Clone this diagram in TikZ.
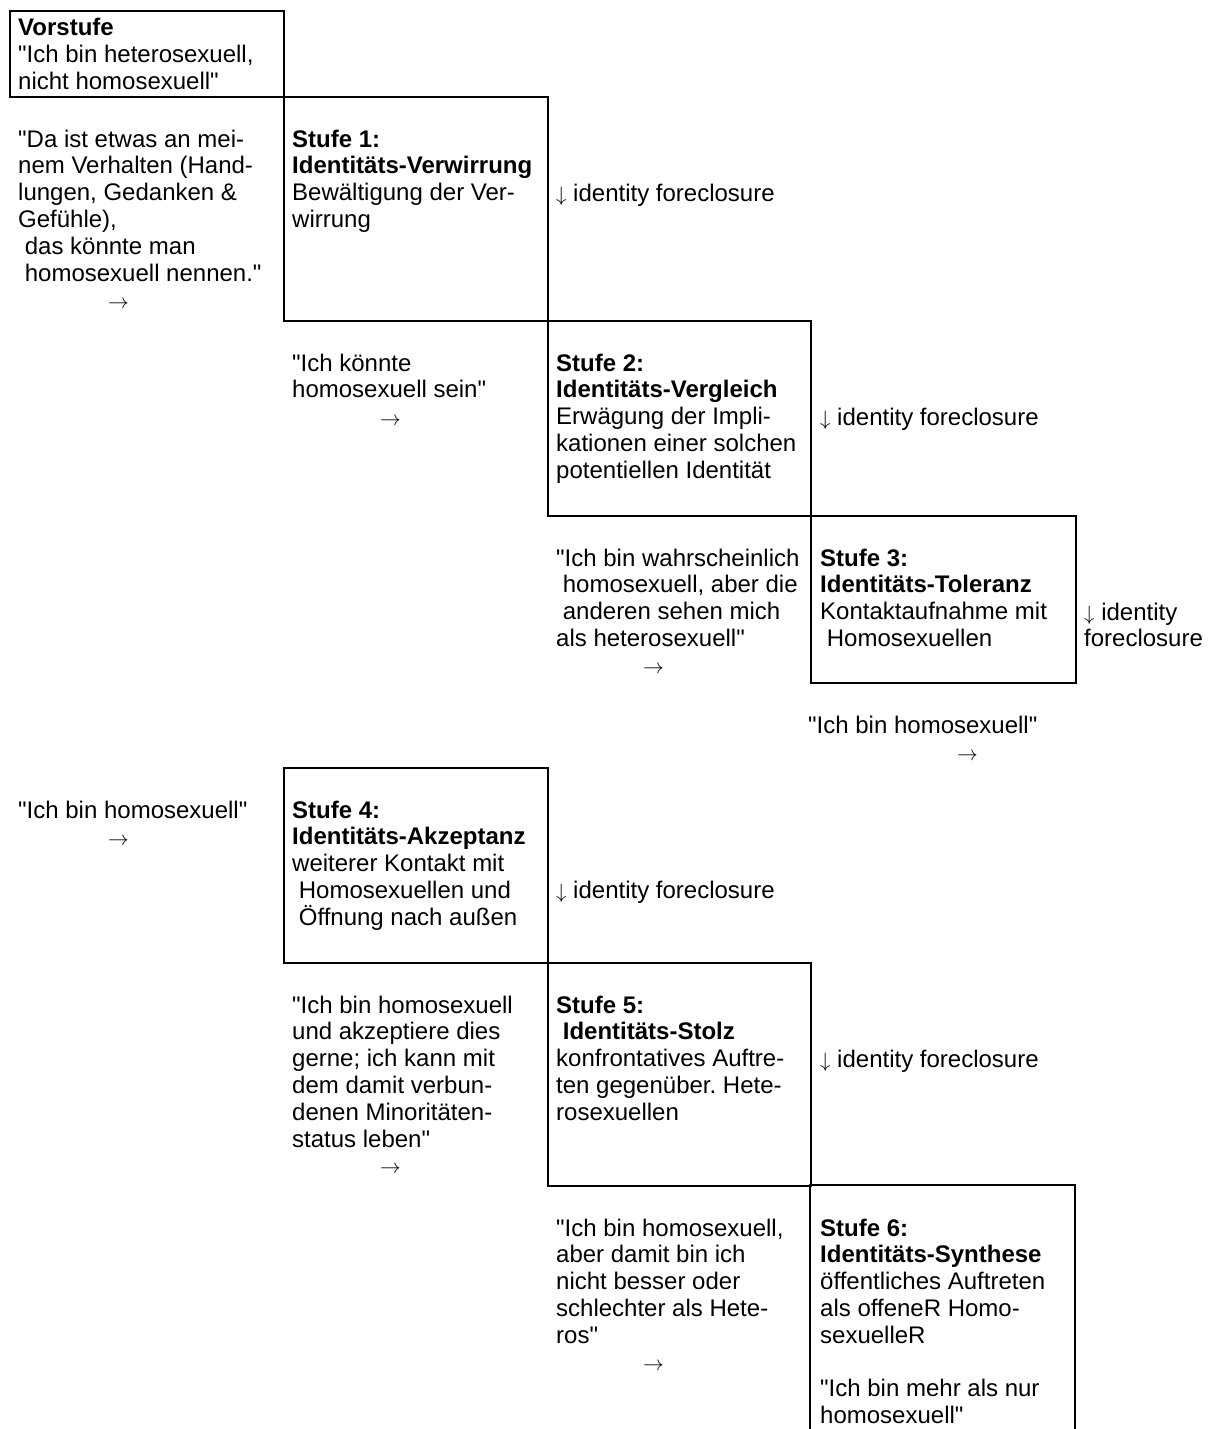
\documentclass[tikz,border=0pt]{standalone}
\usepackage{fontspec}
\setmainfont{Liberation Sans}[Ligatures=TeXOff]
\frenchspacing
\newcommand\Ln[1]{\hbox{#1}}
\newcommand\Bl[1]{\hbox{\bfseries #1}}
\newcommand\blk[1]{\vtop{\baselineskip=26.8pt\lineskiplimit=-100pt\lineskip=0pt\relax#1}}
\newcommand\dn{{\fontsize{21}{21}\selectfont$\downarrow$}}
\tikzset{
  stbox/.style={draw, line width=2pt, inner sep=0pt, anchor=north west},
  txt/.style={anchor=base west, inner sep=0pt, font=\fontsize{24}{26.8}\selectfont},
  arr/.style={anchor=base west, inner sep=0pt, font=\fontsize{21}{21}\selectfont},
}
\begin{document}
\begin{tikzpicture}[x=1pt,y=-1pt]
\useasboundingbox (0,0) rectangle (1214,1429);
% boxes
\node[stbox, minimum width=274pt, minimum height=86pt] (bv) at (9,10) {};
\node[stbox, minimum width=264pt, minimum height=224pt] (b1) at (283,96) {};
\node[stbox, minimum width=263pt, minimum height=195pt] (b2) at (547,320) {};
\node[stbox, minimum width=265pt, minimum height=167pt] (b3) at (810,515) {};
\node[stbox, minimum width=264pt, minimum height=195pt] (b4) at (283,767) {};
\node[stbox, minimum width=263pt, minimum height=223pt] (b5) at (547,962) {};
\draw[line width=2pt] (810,1429) -- (810,1185) -- (1075,1185) -- (1075,1429);
% Vorstufe
\node[txt] (tv) at (18,36) {\blk{\Bl{Vorstufe}\Ln{"Ich bin heterosexuell,}\Ln{nicht homosexuell"}}};
% row 1
\node[txt] (q1) at (18,147) {\blk{\Ln{"Da ist etwas an mei-}\Ln{nem Verhalten (Hand-}\Ln{lungen, Gedanken \&}\Ln{Gefühle),}\Ln{\ das könnte man}\Ln{\ homosexuell nennen."}}};
\node[arr] (a1) at (108,308) {$\rightarrow$};
\node[txt] (t1) at (292,147) {\blk{\Bl{Stufe 1:}\Bl{Identitäts-Verwirrung}\Ln{Bewältigung der Ver-}\Ln{wirrung}}};
\node[txt] (f1) at (556,201) {\dn\ identity foreclosure};
% row 2
\node[txt] (q2) at (292,371) {\blk{\Ln{"Ich könnte}\Ln{homosexuell sein"}}};
\node[arr] (a2) at (380,425) {$\rightarrow$};
\node[txt] (t2) at (556,371) {\blk{\Bl{Stufe 2:}\Bl{Identitäts-Vergleich}\Ln{Erwägung der Impli-}\Ln{kationen einer solchen}\Ln{potentiellen Identität}}};
\node[txt] (f2) at (820,425) {\dn\ identity foreclosure};
% row 3
\node[txt] (q3) at (556,566) {\blk{\Ln{"Ich bin wahrscheinlich}\Ln{\ homosexuell, aber die}\Ln{\ anderen sehen mich}\Ln{als heterosexuell"}}};
\node[arr] (a3) at (643,673) {$\rightarrow$};
\node[txt] (t3) at (820,566) {\blk{\Bl{Stufe 3:}\Bl{Identitäts-Toleranz}\Ln{Kontaktaufnahme mit}\Ln{\ Homosexuellen}}};
\node[txt] (f3) at (1084,620) {\blk{\Ln{\dn\ identity}\Ln{foreclosure}}};
% between
\node[txt] (q3b) at (808,733) {"Ich bin homosexuell"};
\node[arr] (a3b) at (957,760) {$\rightarrow$};
% row 4
\node[txt] (q4) at (18,818) {"Ich bin homosexuell"};
\node[arr] (a4) at (108,845) {$\rightarrow$};
\node[txt] (t4) at (292,818) {\blk{\Bl{Stufe 4:}\Bl{Identitäts-Akzeptanz}\Ln{weiterer Kontakt mit}\Ln{\ Homosexuellen und}\Ln{\ Öffnung nach außen}}};
\node[txt] (f4) at (556,898) {\dn\ identity foreclosure};
% row 5
\node[txt] (q5) at (292,1013) {\blk{\Ln{"Ich bin homosexuell}\Ln{und akzeptiere dies}\Ln{gerne; ich kann mit}\Ln{dem damit verbun-}\Ln{denen Minoritäten-}\Ln{status leben"}}};
\node[arr] (a5) at (380,1173) {$\rightarrow$};
\node[txt] (t5) at (556,1013) {\blk{\Bl{Stufe 5:}\Bl{\ Identitäts-Stolz}\Ln{konfrontatives Auftre-}\Ln{ten gegenüber. Hete-}\Ln{rosexuellen}}};
\node[txt] (f5) at (820,1067) {\dn\ identity foreclosure};
% row 6
\node[txt] (q6) at (556,1236) {\blk{\Ln{"Ich bin homosexuell,}\Ln{aber damit bin ich}\Ln{nicht besser oder}\Ln{schlechter als Hete-}\Ln{ros"}}};
\node[arr] (a6) at (643,1370) {$\rightarrow$};
\node[txt] (t6) at (820,1236) {\blk{\Bl{Stufe 6:}\Bl{Identitäts-Synthese}\Ln{öffentliches Auftreten}\Ln{als offeneR Homo-}\Ln{sexuelleR}\Ln{}\Ln{"Ich bin mehr als nur}\Ln{homosexuell"}}};
\end{tikzpicture}
\end{document}
